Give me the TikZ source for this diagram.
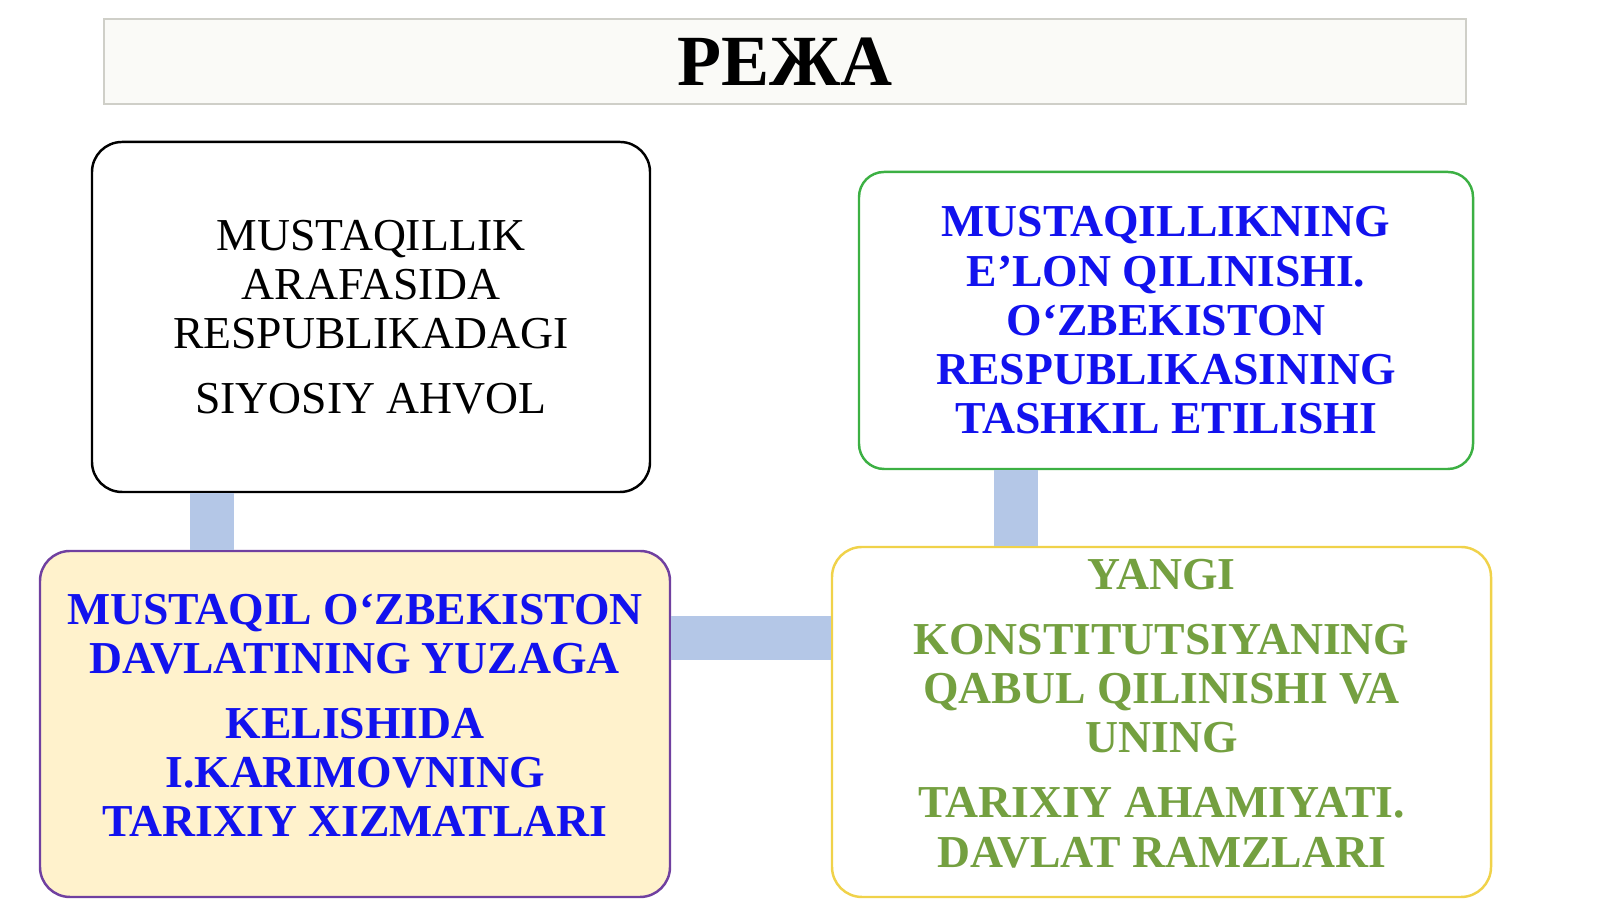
\documentclass[tikz,border=0pt]{standalone}
\usepackage{fontspec}
\setmainfont{Liberation Serif}
\usepackage{tikz}
\usetikzlibrary{positioning}
\definecolor{barblue}{HTML}{B4C7E7}
\definecolor{textblue}{HTML}{1212EE}
\definecolor{textgreen}{HTML}{74A040}
\definecolor{edgegreen}{HTML}{3CB043}
\definecolor{edgepurple}{HTML}{7040A0}
\definecolor{edgeyellow}{HTML}{F0D24A}
\definecolor{fillcream}{HTML}{FFF2CC}
\definecolor{titlefill}{HTML}{FAFAF7}
\definecolor{titleedge}{HTML}{CFCFC8}
\tikzset{
	every text node part/.style= {
		align=center
	},
	heading/.style= {
		rectangle,
		fill=titlefill,
		draw=titleedge,
		line width=0.6pt,
		font=\bfseries\fontsize{20.5}{23}\selectfont
	},
	plan/.style= {
		rectangle,
		rounded corners=0.3cm,
		line width=0.7pt,
		inner sep=0pt,
		font=\bfseries\fontsize{13}{14}\selectfont
	},
	joint/.style= {
		barblue,
		line width=0.44cm
	}
}

\begin{document}
\begin{tikzpicture}
		\useasboundingbox (0,0) rectangle (16,8.99);
		\node (title)[heading, minimum width=13.62cm, minimum height=0.85cm] at (7.85,8.375) {РЕЖА};
		
		\node (before)[plan, draw=black, font=\fontsize{13}{14}\selectfont, minimum width=5.58cm, minimum height=3.50cm] at (3.71,5.82)
			{MUSTAQILLIK\\ARAFASIDA\\RESPUBLIKADAGI\\[4.5pt]SIYOSIY AHVOL};
		\node (declare)[plan, draw=edgegreen, text=textblue, minimum width=6.14cm, minimum height=2.97cm, rounded corners=0.25cm] at (11.66,5.785)
			{MUSTAQILLIKNING\\E’LON QILINISHI.\\O‘ZBEKISTON\\RESPUBLIKASINING\\TASHKIL ETILISHI};
		\node (karimov)[plan, draw=edgepurple, fill=fillcream, text=textblue, text depth=5pt, minimum width=6.30cm, minimum height=3.46cm] at (3.55,1.75)
			{MUSTAQIL O‘ZBEKISTON\\DAVLATINING YUZAGA\\[4.5pt]KELISHIDA\\I.KARIMOVNING\\TARIXIY XIZMATLARI};
		\node (constitution)[plan, draw=edgeyellow, fill=white, text=textgreen, text depth=5pt, minimum width=6.59cm, minimum height=3.50cm] at (11.615,1.77)
			{YANGI\\[4.5pt]KONSTITUTSIYANING\\QABUL QILINISHI VA\\UNING\\[4.5pt]TARIXIY AHAMIYATI.\\DAVLAT RAMZLARI};
		
		\coordinate (jointleft) at (2.12,0);
		\coordinate (jointright) at (10.16,0);
		\coordinate (jointmid) at (0,2.61);
		\draw[joint] (before.south -| jointleft) to (karimov.north -| jointleft);
		\draw[joint] (declare.south -| jointright) to (constitution.north -| jointright);
		\draw[joint] (karimov.east |- jointmid) to (constitution.west |- jointmid);
	\end{tikzpicture}
\end{document}
